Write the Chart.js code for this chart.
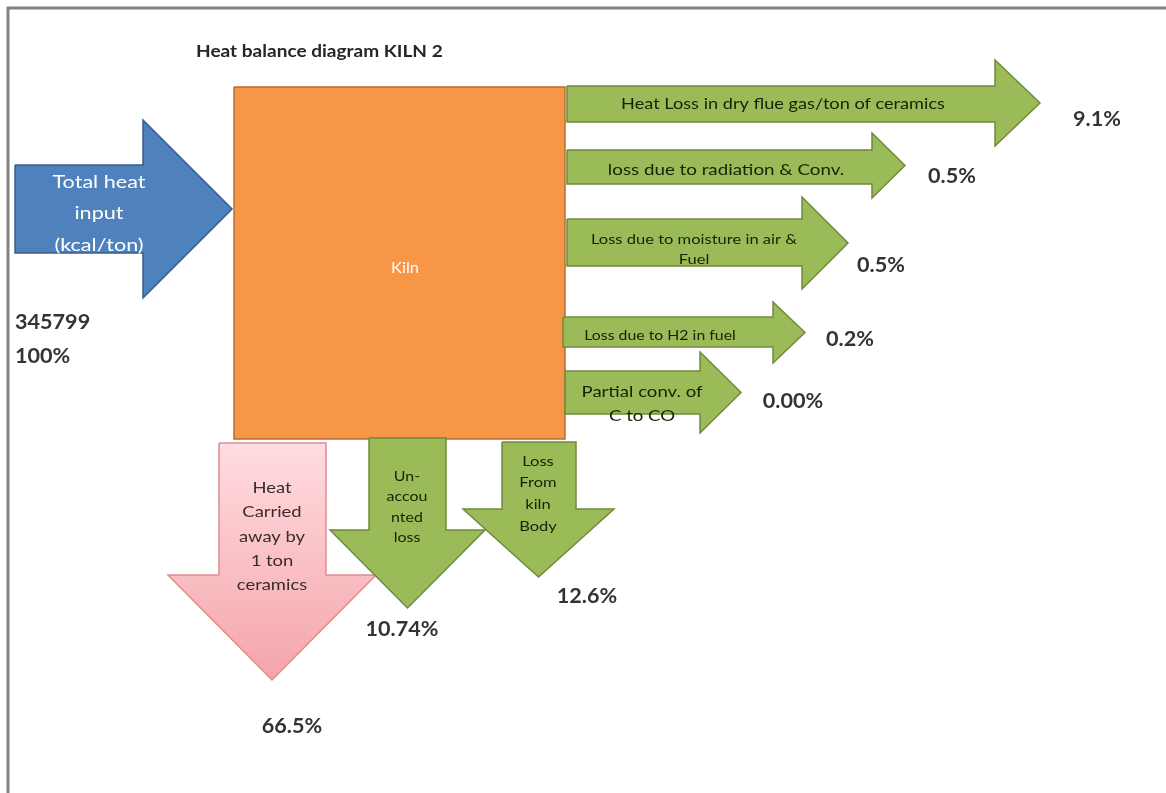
<!DOCTYPE html>
<html>
<head>
<meta charset="utf-8">
<title>Heat balance diagram KILN 2</title>
<script src="https://cdn.jsdelivr.net/npm/chart.js@4.4.0/dist/chart.umd.min.js"></script>
<style>
    html, body { margin: 0; padding: 0; background: #ffffff; }
    #wrap { position: relative; width: 1166px; height: 793px; }
</style>
</head>
<body>
<div id="wrap"><canvas id="heatChart"></canvas></div>
<script>
// Heat balance diagram - Kiln 2

// ---- data ----
const chartTitle = 'Heat balance diagram KILN 2';
const inputName = 'Total heat\ninput\n(kcal/ton)';
const inputTotal = 345799;
const inputShare = 100;
const kilnName = 'Kiln';

const lossNames = [
    'Heat Loss in dry flue gas/ton of ceramics',
    'loss due to radiation & Conv.',
    'Loss due to moisture in air &\nFuel',
    'Loss due to H2 in fuel',
    'Partial conv. of\nC to CO',
    'Heat\nCarried\naway by\n1 ton\nceramics',
    'Un-\naccou\nnted\nloss',
    'Loss\nFrom\nkiln\nBody'
];
const lossValues = [9.1, 0.5, 0.5, 0.2, 0.00, 66.5, 10.74, 12.6];
const lossDecimals = [1, 1, 1, 1, 2, 1, 2, 1];

// ---- layout (canvas units, y grows downwards) ----
const W = 1166, H = 793;
const kilnBox = { left: 234, top: 87, right: 565, bottom: 439 };
const inputArrow = { x0: 15, headX: 143, tipX: 232, top: 165, bottom: 253, headTop: 120, headBottom: 298 };

// one entry per loss: arrow outline, label anchor (with horizontal stretch) and value anchor
const lossLayout = [
    { dir: 'right', x0: 567, headX: 995, tipX: 1040, top: 86, bottom: 122, headTop: 60, headBottom: 146,
      text: [783, 104], size: 15, stretch: 1.21, gap: 20, value: [1097, 120] },
    { dir: 'right', x0: 567, headX: 872, tipX: 905, top: 150, bottom: 184, headTop: 133, headBottom: 198,
      text: [726, 170], size: 15, stretch: 1.25, gap: 20, value: [952, 177] },
    { dir: 'right', x0: 567, headX: 802, tipX: 848, top: 219, bottom: 266, headTop: 197, headBottom: 289,
      text: [694, 239], size: 14, stretch: 1.18, gap: 20, value: [881, 266] },
    { dir: 'right', x0: 563, headX: 773, tipX: 805, top: 317, bottom: 347, headTop: 302, headBottom: 363,
      text: [660, 335], size: 14, stretch: 1.13, gap: 20, value: [850, 340] },
    { dir: 'right', x0: 565, headX: 700, tipX: 741, top: 371, bottom: 414, headTop: 352, headBottom: 433,
      text: [642, 392], size: 16, stretch: 1.16, gap: 24, value: [793, 402] },
    { dir: 'down', left: 219, right: 326, y0: 443, headY: 575, headLeft: 168, headRight: 376, tipY: 680,
      text: [272, 488], size: 16, stretch: 1.15, gap: 24.2, value: [292, 727] },
    { dir: 'down', left: 369, right: 446, y0: 438, headY: 530, headLeft: 330, headRight: 485, tipY: 608,
      text: [407, 476], size: 14, stretch: 1.14, gap: 20.5, value: [402, 630] },
    { dir: 'down', left: 502, right: 576, y0: 442, headY: 509, headLeft: 463, headRight: 614, tipY: 577,
      text: [538, 461], size: 14, stretch: 1.18, gap: 21.8, value: [587, 597] }
];

const COLORS = {
    kiln: '#F79646', kilnLine: '#B66D31',
    input: '#4F81BD', inputLine: '#385D8A',
    loss: '#9BBB59', lossLine: '#71893F', lossText: '#182204',
    product: ['#FFDCDF', '#F4A5AB'], productLine: '#E08A90', productText: '#3a2c2c',
    value: '#333333', frame: '#828282'
};
const FONT = 'Lato, "Open Sans", sans-serif';

// ---- outline builders ----
function rightArrow(a) {
    const mid = (a.headTop + a.headBottom) / 2;
    return [
        { x: a.x0, y: a.top }, { x: a.headX, y: a.top }, { x: a.headX, y: a.headTop },
        { x: a.tipX, y: mid }, { x: a.headX, y: a.headBottom }, { x: a.headX, y: a.bottom },
        { x: a.x0, y: a.bottom }, { x: a.x0, y: a.top }
    ];
}

function downArrow(a) {
    const mid = (a.headLeft + a.headRight) / 2;
    return [
        { x: a.left, y: a.y0 }, { x: a.right, y: a.y0 }, { x: a.right, y: a.headY },
        { x: a.headRight, y: a.headY }, { x: mid, y: a.tipY }, { x: a.headLeft, y: a.headY },
        { x: a.left, y: a.headY }, { x: a.left, y: a.y0 }
    ];
}

function box(b) {
    return [
        { x: b.left, y: b.top }, { x: b.right, y: b.top }, { x: b.right, y: b.bottom },
        { x: b.left, y: b.bottom }, { x: b.left, y: b.top }
    ];
}

// pink fill fades towards the arrow head
function productFill(context) {
    const chart = context.chart;
    if (!chart.chartArea) return COLORS.product[0];
    const a = lossLayout[5];
    const y = chart.scales.y;
    const g = chart.ctx.createLinearGradient(0, y.getPixelForValue(a.y0), 0, y.getPixelForValue(a.tipY));
    g.addColorStop(0, COLORS.product[0]);
    g.addColorStop(1, COLORS.product[1]);
    return g;
}

function shapeDataset(label, points, fill, line, order) {
    return {
        label, data: points, order,
        fill: 'shape', backgroundColor: fill, borderColor: line, borderWidth: 1.5,
        pointRadius: 0, pointHoverRadius: 0, tension: 0
    };
}

const datasets = [shapeDataset(kilnName, box(kilnBox), COLORS.kiln, COLORS.kilnLine, 20)];
datasets.push(shapeDataset('Total heat input', rightArrow(inputArrow), COLORS.input, COLORS.inputLine, 15));
lossLayout.forEach((a, i) => {
    const product = i === 5;
    const pts = a.dir === 'right' ? rightArrow(a) : downArrow(a);
    datasets.push(shapeDataset(
        lossNames[i].replace(/\n/g, ' '), pts,
        product ? productFill : COLORS.loss,
        product ? COLORS.productLine : COLORS.lossLine,
        10 - i
    ));
});

// ---- text and frame ----
// text is widened a little horizontally, like the original drawing
function stretchedText(ctx, text, x, y, k) {
    ctx.save();
    ctx.translate(x, y);
    ctx.scale(k, 1);
    ctx.fillText(text, 0, 0);
    ctx.restore();
}

function drawLines(ctx, text, x, y, gap, k) {
    text.split('\n').forEach((line, n) => stretchedText(ctx, line, x, y + n * gap, k));
}

const diagramText = {
    id: 'diagramText',
    beforeDatasetsDraw(chart) {
        const { ctx } = chart;
        const sx = v => chart.scales.x.getPixelForValue(v);
        const sy = v => chart.scales.y.getPixelForValue(v);
        ctx.save();
        ctx.strokeStyle = COLORS.frame;
        ctx.lineWidth = 3;
        ctx.beginPath();
        ctx.moveTo(sx(8), sy(H));
        ctx.lineTo(sx(8), sy(8));
        ctx.lineTo(sx(W), sy(8));
        ctx.stroke();
        ctx.restore();
    },
    afterDatasetsDraw(chart) {
        const { ctx } = chart;
        const sx = v => chart.scales.x.getPixelForValue(v);
        const sy = v => chart.scales.y.getPixelForValue(v);
        ctx.save();
        ctx.textBaseline = 'middle';

        // title
        ctx.textAlign = 'left';
        ctx.fillStyle = '#262626';
        ctx.font = 'bold 17px ' + FONT;
        stretchedText(ctx, chartTitle, sx(196), sy(52), 1.12);

        // input arrow + kiln labels
        ctx.textAlign = 'center';
        ctx.fillStyle = '#ffffff';
        ctx.font = '18px ' + FONT;
        drawLines(ctx, inputName, sx(99), sy(182), 31.5, 1.2);
        ctx.font = '15px ' + FONT;
        stretchedText(ctx, kilnName, sx(405), sy(268), 1.1);

        // input totals
        ctx.textAlign = 'left';
        ctx.fillStyle = COLORS.value;
        ctx.font = 'bold 20px ' + FONT;
        stretchedText(ctx, String(inputTotal), sx(15), sy(323), 1.08);
        stretchedText(ctx, inputShare + '%', sx(15), sy(357), 1.08);

        // loss labels and values
        lossLayout.forEach((a, i) => {
            ctx.textAlign = 'center';
            ctx.fillStyle = i === 5 ? COLORS.productText : COLORS.lossText;
            ctx.font = a.size + 'px ' + FONT;
            drawLines(ctx, lossNames[i], sx(a.text[0]), sy(a.text[1]), a.gap, a.stretch);
            ctx.fillStyle = COLORS.value;
            ctx.font = 'bold 20px ' + FONT;
            const txt = lossValues[i].toFixed(lossDecimals[i]) + '%';
            stretchedText(ctx, txt, sx(a.value[0]), sy(a.value[1]), 1.08);
        });
        ctx.restore();
    }
};

new Chart(document.getElementById('heatChart'), {
    type: 'line',
    data: { datasets },
    options: {
        responsive: true,
        maintainAspectRatio: false,
        animation: false,
        layout: { padding: 0 },
        scales: {
            x: { type: 'linear', min: 0, max: W, display: false },
            y: { type: 'linear', min: 0, max: H, reverse: true, display: false }
        },
        plugins: {
            legend: { display: false },
            tooltip: { enabled: false }
        },
        events: []
    },
    plugins: [diagramText]
});
</script>
</body>
</html>
